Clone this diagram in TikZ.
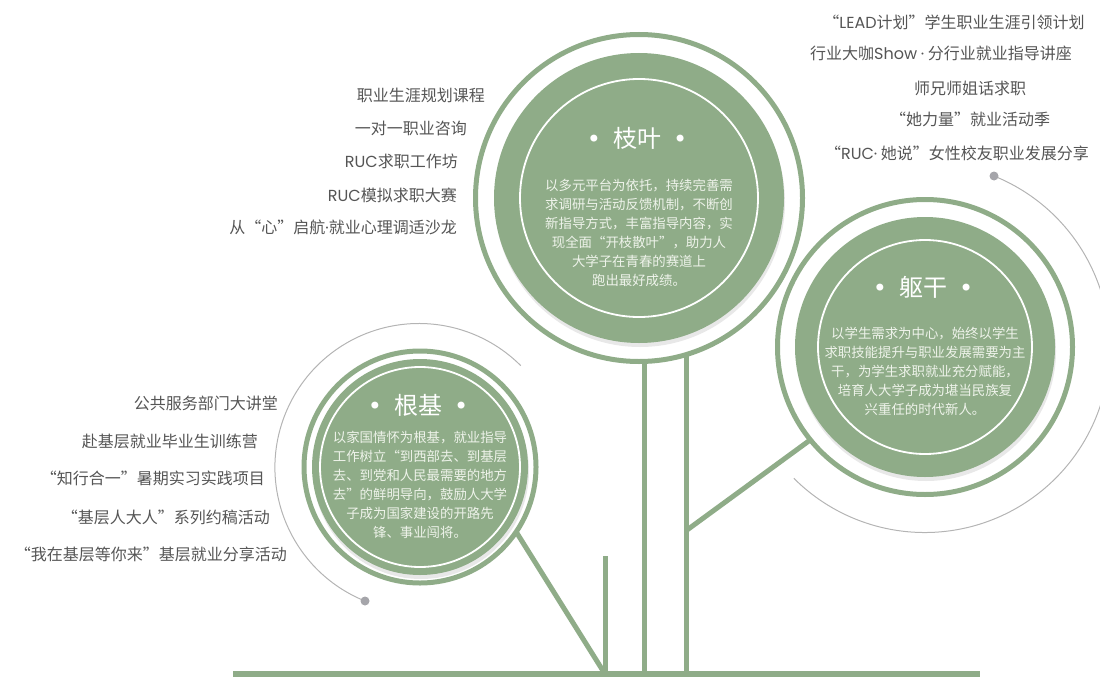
\documentclass[tikz,border=0pt]{standalone}
\usepackage{fontspec}
\setmainfont{Noto Sans CJK SC}
\newfontfamily\dotfont{DejaVu Sans}
\newfontfamily\latinfont{Poppins}
\usetikzlibrary{shadows}
\definecolor{leafgreen}{HTML}{8FAC88}
\definecolor{itemgray}{HTML}{555555}
\definecolor{arcgray}{HTML}{B4B4B4}
\definecolor{dotgray}{HTML}{A5A5AA}
\definecolor{bodytext}{HTML}{EEF3EA}
\newcommand{\tdot}{{\dotfont •}}
\newcommand{\mdot}{{\latinfont ·}}
\tikzset{
  outerring/.style={circle, draw=leafgreen, line width=5pt, inner sep=0pt, outer sep=0pt},
  core/.style={circle, fill=leafgreen, inner sep=0pt, outer sep=0pt,
    drop shadow={shadow xshift=1pt, shadow yshift=-4pt, opacity=.18}},
  innerring/.style={draw=white, line width=1.8pt},
  branch/.style={draw=leafgreen, line width=5pt},
  item/.style={text=itemgray, font=\fontsize{16}{16}\selectfont, inner sep=0pt},
  title/.style={text=white, font=\fontsize{24}{24}\selectfont, inner sep=0pt},
  body/.style={text=bodytext, font=\fontsize{13.4}{19}\selectfont, align=center, inner sep=0pt},
  guide/.style={draw=arcgray, line width=1pt},
}
\begin{document}
\begin{tikzpicture}[x=1pt, y=-1pt]
  \useasboundingbox (0,0) rectangle (1100,677);
  % ground and trunk
  \coordinate (gl) at (233,674);
  \coordinate (gr) at (980,674);
  \coordinate (stub) at (605,556);
  \coordinate (fork) at (687,530);
  % circles
  \node[outerring, minimum size=327pt] (zhiye) at (639,198) {};
  \node[core, minimum size=290pt] (zhiyecore) at (zhiye) {};
  \draw[innerring] (zhiye) circle[radius=119];
  \node[outerring, minimum size=295pt] (qugan) at (925,347) {};
  \node[core, minimum size=260pt] (qugancore) at (qugan) {};
  \draw[innerring] (qugan) circle[radius=107];
  \node[outerring, minimum size=232pt] (genji) at (420,467) {};
  \node[core, minimum size=216pt] (genjicore) at (genji) {};
  \draw[innerring] (genji) circle[radius=100];
  \begin{scope}[branch]
    \draw[line width=6pt] (gl) -- (gr);
    \draw (zhiye.-88) -- (zhiye.-88 |- gl);
    \draw (zhiye.-73) -- (zhiye.-73 |- gl);
    \draw (stub) -- (stub |- gl);
    \draw (genji.-34) -- (stub |- gl);
    \draw (qugan.219) -- (fork);
  \end{scope}
  % guide arcs
  \coordinate (rdot) at (994,176);
  \coordinate (ldot) at (365,601);
  \draw[guide] (rdot) arc[start angle=-68, end angle=135, radius=185];
  \draw[guide] (ldot) arc[start angle=112, end angle=315, radius=144];
  \fill[dotgray] (rdot) circle[radius=4.5];
  \fill[dotgray] (ldot) circle[radius=4.5];
  % circle texts
  \node[title] (zhiyetitle) at (637,138) {\tdot\enspace 枝叶\enspace\tdot};
  \node[body] (zhiyetext) at (639,233) {以多元平台为依托，持续完善需\\求调研与活动反馈机制，不断创\\新指导方式，丰富指导内容，实\\现全面“开枝散叶”，助力人\\大学子在青春的赛道上\\跑出最好成绩。};
  \node[title] (qugantitle) at (923,287) {\tdot\enspace 躯干\enspace\tdot};
  \node[body] (qugantext) at (925,371) {以学生需求为中心，始终以学生\\求职技能提升与职业发展需要为主\\干，为学生求职就业充分赋能，\\培育人大学子成为堪当民族复\\兴重任的时代新人。};
  \node[title] (genjititle) at (418,405) {\tdot\enspace 根基\enspace\tdot};
  \node[body] (genjitext) at (420,485) {以家国情怀为根基，就业指导\\工作树立“到西部去、到基层\\去、到党和人民最需要的地方\\去”的鲜明导向，鼓励人大学\\子成为国家建设的开路先\\锋、事业闯将。};
  % items
  \node[item, anchor=east] (a1) at (485,95) {职业生涯规划课程};
  \node[item, anchor=east] (a2) at (467,128) {一对一职业咨询};
  \node[item, anchor=east] (a3) at (458,161) {{\latinfont RUC}求职工作坊};
  \node[item, anchor=east] (a4) at (457,195) {{\latinfont RUC}模拟求职大赛};
  \node[item, anchor=east] (a5) at (457,227) {从“心”启航\mdot 就业心理调适沙龙};
  \node[item] (b1) at (954,22) {“{\latinfont LEAD}计划”学生职业生涯引领计划};
  \node[item] (b2) at (941,53) {行业大咖{\latinfont Show} \mdot\ 分行业就业指导讲座};
  \node[item] (b3) at (970,88) {师兄师姐话求职};
  \node[item] (b4) at (970,119) {“她力量”就业活动季};
  \node[item] (b5) at (957,153) {“{\latinfont RUC}\mdot\ 她说”女性校友职业发展分享};
  \node[item, anchor=east] (c1) at (278,403) {公共服务部门大讲堂};
  \node[item, anchor=east] (c2) at (258,441) {赴基层就业毕业生训练营};
  \node[item, anchor=east] (c3) at (265,478) {“知行合一”暑期实习实践项目};
  \node[item, anchor=east] (c4) at (270,517) {“基层人大人”系列约稿活动};
  \node[item, anchor=east] (c5) at (287,554) {“我在基层等你来”基层就业分享活动};
\end{tikzpicture}
\end{document}
